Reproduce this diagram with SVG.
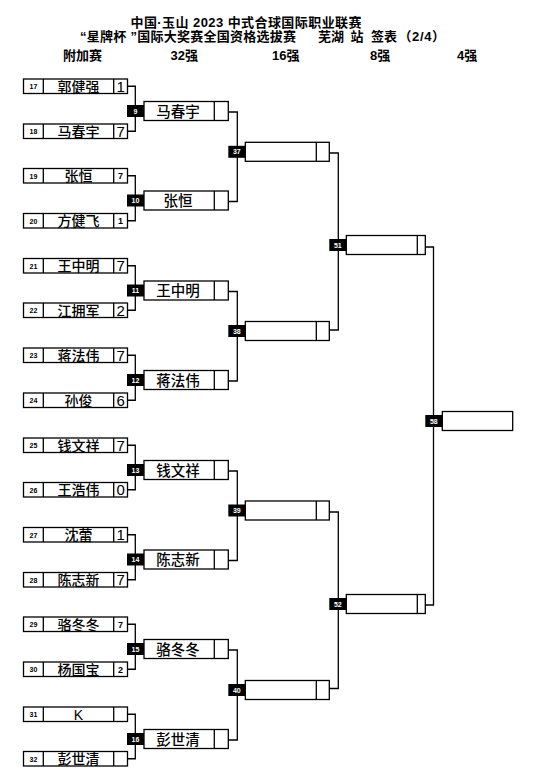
<svg xmlns="http://www.w3.org/2000/svg" width="533" height="783" viewBox="0 0 533 783">
<style>
text{font-family:"Liberation Sans","Noto Sans CJK SC",sans-serif;fill:#000}
.box{fill:#fff;stroke:#000;stroke-width:1.3}
.dv{fill:none;stroke:#000;stroke-width:1.3}
.ln{fill:none;stroke:#000;stroke-width:1.3}
.bd{fill:#000}
.bt{fill:#fff;font-size:7px;font-weight:bold;text-anchor:middle}
.sd{font-size:7px;font-weight:bold;text-anchor:middle}
.nm{font-size:14px;font-weight:500;text-anchor:middle}
.n2{font-size:14.5px;font-weight:500;text-anchor:middle}
.sc{font-size:15px;text-anchor:middle}
.ss{font-size:9px;font-weight:bold;text-anchor:middle}
.hd{font-size:13px;font-weight:bold}
</style>
<rect width="533" height="783" fill="#fff"/>
<g id="title">
<text class="hd" x="130.5" y="27" textLength="231" lengthAdjust="spacing">中国·玉山 2023 中式合球国际职业联赛</text>
<text class="hd" x="80" y="41" textLength="216" lengthAdjust="spacing">“星牌杯 ”国际大奖赛全国资格选拔赛</text>
<text class="hd" y="41"><tspan x="318">芜湖</tspan><tspan x="350.5">站</tspan><tspan x="371">签表</tspan></text>
<text class="hd" x="398.5" y="41" textLength="46.5" lengthAdjust="spacing">（2/4）</text>
<text class="hd" x="63" y="60">附加赛</text>
<text class="hd" x="170.5" y="60">32强</text>
<text class="hd" x="272" y="60">16强</text>
<text class="hd" x="370" y="60">8强</text>
<text class="hd" x="457" y="60">4强</text>
</g>
<g id="connectors">
<path class="ln" d="M127.5 86.25H135.3V131.25H127.5M127.5 175.75H135.3V220.75H127.5M127.5 265.75H135.3V310.25H127.5M127.5 355.25H135.3V400.25H127.5M127.5 445.25H135.3V489.75H127.5M127.5 534.75H135.3V579.75H127.5M127.5 624.25H135.3V669.25H127.5M127.5 714.25H135.3V758.75H127.5"/>
<path class="ln" d="M228.3 112H237.3V201.5H228.3M228.3 291.5H237.3V381H228.3M228.3 471H237.3V560.5H228.3M228.3 650H237.3V740H228.3"/>
<path class="ln" d="M329.3 153H338.3V330H329.3M329.3 512H338.3V688.5H329.3"/>
<path class="ln" d="M425.3 247H433.5V605H425.3"/>
</g>
<g id="p17"><rect class="box" x="23.5" y="79" width="104" height="14.5"/><path class="dv" d="M43.3 79v14.5M113.7 79v14.5"/><text class="sd" x="33.4" y="89">17</text><text class="nm" x="78.5" y="91.5">郭健强</text><text class="sc" x="120.6" y="91.7">1</text></g>
<g id="p18"><rect class="box" x="23.5" y="124" width="104" height="14.5"/><path class="dv" d="M43.3 124v14.5M113.7 124v14.5"/><text class="sd" x="33.4" y="134">18</text><text class="nm" x="78.5" y="136.5">马春宇</text><text class="sc" x="120.6" y="136.7">7</text></g>
<g id="p19"><rect class="box" x="23.5" y="168.5" width="104" height="14.5"/><path class="dv" d="M43.3 168.5v14.5M113.7 168.5v14.5"/><text class="sd" x="33.4" y="178.5">19</text><text class="nm" x="78.5" y="181">张恒</text><text class="ss" x="120.6" y="179">7</text></g>
<g id="p20"><rect class="box" x="23.5" y="213.5" width="104" height="14.5"/><path class="dv" d="M43.3 213.5v14.5M113.7 213.5v14.5"/><text class="sd" x="33.4" y="223.5">20</text><text class="nm" x="78.5" y="226">方健飞</text><text class="ss" x="120.6" y="224">1</text></g>
<g id="p21"><rect class="box" x="23.5" y="258.5" width="104" height="14.5"/><path class="dv" d="M43.3 258.5v14.5M113.7 258.5v14.5"/><text class="sd" x="33.4" y="268.5">21</text><text class="nm" x="78.5" y="271">王中明</text><text class="sc" x="120.6" y="271.2">7</text></g>
<g id="p22"><rect class="box" x="23.5" y="303" width="104" height="14.5"/><path class="dv" d="M43.3 303v14.5M113.7 303v14.5"/><text class="sd" x="33.4" y="313">22</text><text class="nm" x="78.5" y="315.5">江拥军</text><text class="sc" x="120.6" y="315.7">2</text></g>
<g id="p23"><rect class="box" x="23.5" y="348" width="104" height="14.5"/><path class="dv" d="M43.3 348v14.5M113.7 348v14.5"/><text class="sd" x="33.4" y="358">23</text><text class="nm" x="78.5" y="360.5">蒋法伟</text><text class="sc" x="120.6" y="360.7">7</text></g>
<g id="p24"><rect class="box" x="23.5" y="393" width="104" height="14.5"/><path class="dv" d="M43.3 393v14.5M113.7 393v14.5"/><text class="sd" x="33.4" y="403">24</text><text class="nm" x="78.5" y="405.5">孙俊</text><text class="sc" x="120.6" y="405.7">6</text></g>
<g id="p25"><rect class="box" x="23.5" y="438" width="104" height="14.5"/><path class="dv" d="M43.3 438v14.5M113.7 438v14.5"/><text class="sd" x="33.4" y="448">25</text><text class="nm" x="78.5" y="450.5">钱文祥</text><text class="sc" x="120.6" y="450.7">7</text></g>
<g id="p26"><rect class="box" x="23.5" y="482.5" width="104" height="14.5"/><path class="dv" d="M43.3 482.5v14.5M113.7 482.5v14.5"/><text class="sd" x="33.4" y="492.5">26</text><text class="nm" x="78.5" y="495">王浩伟</text><text class="sc" x="120.6" y="495.2">0</text></g>
<g id="p27"><rect class="box" x="23.5" y="527.5" width="104" height="14.5"/><path class="dv" d="M43.3 527.5v14.5M113.7 527.5v14.5"/><text class="sd" x="33.4" y="537.5">27</text><text class="nm" x="78.5" y="540">沈蕾</text><text class="sc" x="120.6" y="540.2">1</text></g>
<g id="p28"><rect class="box" x="23.5" y="572.5" width="104" height="14.5"/><path class="dv" d="M43.3 572.5v14.5M113.7 572.5v14.5"/><text class="sd" x="33.4" y="582.5">28</text><text class="nm" x="78.5" y="585">陈志新</text><text class="sc" x="120.6" y="585.2">7</text></g>
<g id="p29"><rect class="box" x="23.5" y="617" width="104" height="14.5"/><path class="dv" d="M43.3 617v14.5M113.7 617v14.5"/><text class="sd" x="33.4" y="627">29</text><text class="nm" x="78.5" y="629.5">骆冬冬</text><text class="ss" x="120.6" y="627.5">7</text></g>
<g id="p30"><rect class="box" x="23.5" y="662" width="104" height="14.5"/><path class="dv" d="M43.3 662v14.5M113.7 662v14.5"/><text class="sd" x="33.4" y="672">30</text><text class="nm" x="78.5" y="674.5">杨国宝</text><text class="ss" x="120.6" y="672.5">2</text></g>
<g id="p31"><rect class="box" x="23.5" y="707" width="104" height="14.5"/><path class="dv" d="M43.3 707v14.5M113.7 707v14.5"/><text class="sd" x="33.4" y="717">31</text><text class="nm" x="78.5" y="719.5">K</text></g>
<g id="p32"><rect class="box" x="23.5" y="751.5" width="104" height="14.5"/><path class="dv" d="M43.3 751.5v14.5M113.7 751.5v14.5"/><text class="sd" x="33.4" y="761.5">32</text><text class="nm" x="78.5" y="764">彭世清</text></g>
<g id="m9"><rect class="box" x="144" y="101.5" width="84.3" height="19"/><path class="dv" d="M214.3 101.5v19"/><rect class="bd" x="127" y="105" width="17" height="12"/><text class="bt" x="135.5" y="113.5">9</text><text class="n2" x="178" y="116.7">马春宇</text></g>
<g id="m10"><rect class="box" x="144" y="191" width="84.3" height="19"/><path class="dv" d="M214.3 191v19"/><rect class="bd" x="127" y="194.5" width="17" height="12"/><text class="bt" x="135.5" y="203">10</text><text class="n2" x="178" y="206.2">张恒</text></g>
<g id="m11"><rect class="box" x="144" y="281" width="84.3" height="19"/><path class="dv" d="M214.3 281v19"/><rect class="bd" x="127" y="284.5" width="17" height="12"/><text class="bt" x="135.5" y="293">11</text><text class="n2" x="178" y="296.2">王中明</text></g>
<g id="m12"><rect class="box" x="144" y="370.5" width="84.3" height="19"/><path class="dv" d="M214.3 370.5v19"/><rect class="bd" x="127" y="374" width="17" height="12"/><text class="bt" x="135.5" y="382.5">12</text><text class="n2" x="178" y="385.7">蒋法伟</text></g>
<g id="m13"><rect class="box" x="144" y="460.5" width="84.3" height="19"/><path class="dv" d="M214.3 460.5v19"/><rect class="bd" x="127" y="464" width="17" height="12"/><text class="bt" x="135.5" y="472.5">13</text><text class="n2" x="178" y="475.7">钱文祥</text></g>
<g id="m14"><rect class="box" x="144" y="550" width="84.3" height="19"/><path class="dv" d="M214.3 550v19"/><rect class="bd" x="127" y="553.5" width="17" height="12"/><text class="bt" x="135.5" y="562">14</text><text class="n2" x="178" y="565.2">陈志新</text></g>
<g id="m15"><rect class="box" x="144" y="639.5" width="84.3" height="19"/><path class="dv" d="M214.3 639.5v19"/><rect class="bd" x="127" y="643" width="17" height="12"/><text class="bt" x="135.5" y="651.5">15</text><text class="n2" x="178" y="654.7">骆冬冬</text></g>
<g id="m16"><rect class="box" x="144" y="729.5" width="84.3" height="19"/><path class="dv" d="M214.3 729.5v19"/><rect class="bd" x="127" y="733" width="17" height="12"/><text class="bt" x="135.5" y="741.5">16</text><text class="n2" x="178" y="744.7">彭世清</text></g>
<g id="m37"><rect class="box" x="245.3" y="142.3" width="84" height="19"/><path class="dv" d="M316.3 142.3v19"/><rect class="bd" x="228.3" y="145.8" width="17" height="12"/><text class="bt" x="236.8" y="154.3">37</text></g>
<g id="m38"><rect class="box" x="245.3" y="321.5" width="84" height="19"/><path class="dv" d="M316.3 321.5v19"/><rect class="bd" x="228.3" y="325" width="17" height="12"/><text class="bt" x="236.8" y="333.5">38</text></g>
<g id="m39"><rect class="box" x="245.3" y="501" width="84" height="19"/><path class="dv" d="M316.3 501v19"/><rect class="bd" x="228.3" y="504.5" width="17" height="12"/><text class="bt" x="236.8" y="513">39</text></g>
<g id="m40"><rect class="box" x="245.3" y="680.5" width="84" height="19"/><path class="dv" d="M316.3 680.5v19"/><rect class="bd" x="228.3" y="684" width="17" height="12"/><text class="bt" x="236.8" y="692.5">40</text></g>
<g id="m51"><rect class="box" x="346.3" y="235.5" width="79" height="19"/><path class="dv" d="M417.3 235.5v19"/><rect class="bd" x="329.3" y="239" width="17" height="12"/><text class="bt" x="337.8" y="247.5">51</text></g>
<g id="m52"><rect class="box" x="346.3" y="594.5" width="79" height="19"/><path class="dv" d="M417.3 594.5v19"/><rect class="bd" x="329.3" y="598" width="17" height="12"/><text class="bt" x="337.8" y="606.5">52</text></g>
<g id="m58"><rect class="box" x="442.3" y="411.5" width="70.4" height="19"/><rect class="bd" x="425.3" y="415" width="17" height="12"/><text class="bt" x="433.8" y="423.5">58</text></g>
</svg>
